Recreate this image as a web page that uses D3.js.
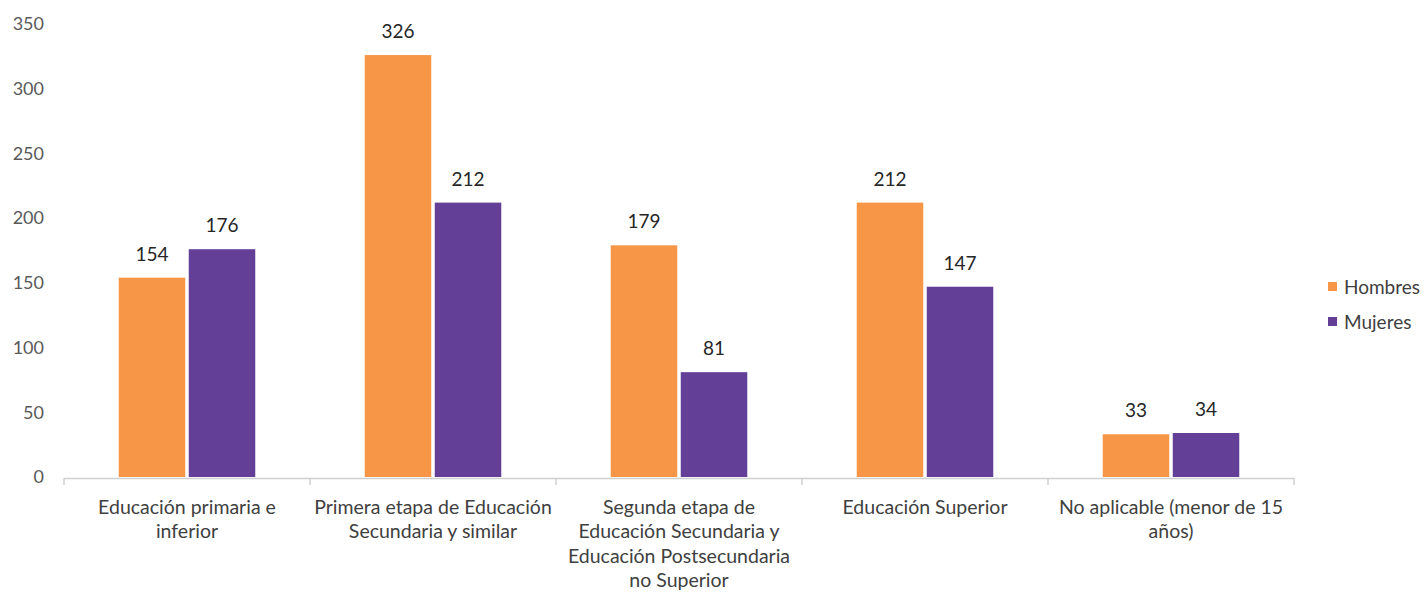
<!DOCTYPE html>
<html><head><meta charset="utf-8">
<script src="https://cdn.jsdelivr.net/npm/d3@7"></script>
<style>body{margin:0;background:#fff}svg{display:block}text{font-family:Lato,"Open Sans",sans-serif}</style>
</head><body><svg id="c" width="1424" height="592"></svg>
<script>
const categories = [
  ["Educación primaria e","inferior"],
  ["Primera etapa de Educación","Secundaria y similar"],
  ["Segunda etapa de","Educación Secundaria y","Educación Postsecundaria","no Superior"],
  ["Educación Superior"],
  ["No aplicable (menor de 15","años)"]
];
const seriesNames = ["Hombres","Mujeres"];
const hombres = [154, 326, 179, 212, 33];
const mujeres = [176, 212, 81, 147, 34];
const yTicks = [0,50,100,150,200,250,300,350];
const colors = ["#F79646","#643F98"];

const svg = d3.select("#c");
const catKeys = categories.map((c,i)=>i);
const x0 = d3.scaleBand().domain(catKeys).range([64,1294]).padding(0);
const bw = x0.bandwidth();
const gw = bw*0.555;
const x1 = d3.scaleBand().domain(seriesNames).range([(bw-gw)/2,(bw+gw)/2]).paddingInner(0.05);
const y = d3.scaleLinear().domain([0,350]).range([477,24]);

// y tick labels
svg.append("g").selectAll("text").data(yTicks).join("text")
  .attr("x",44).attr("y",d=>y(d)).attr("dy","0.35em").attr("text-anchor","end")
  .attr("font-size",18).attr("fill","#595959").text(d=>d);

const data = [hombres, mujeres];
const g = svg.append("g");
seriesNames.forEach((s,si)=>{
  g.selectAll(null).data(data[si]).join("rect")
    .attr("x",(d,i)=>x0(i)+x1(s)).attr("width",x1.bandwidth())
    .attr("y",d=>y(d)).attr("height",d=>y(0)-y(d)).attr("fill",colors[si]);
  g.selectAll(null).data(data[si]).join("text")
    .attr("x",(d,i)=>x0(i)+x1(s)+x1.bandwidth()/2).attr("y",d=>y(d)-17)
    .attr("text-anchor","middle").attr("font-size",19).attr("fill","#262626").text(d=>d);
});

// x axis
const ax = svg.append("g");
ax.append("line").attr("x1",64).attr("x2",1294).attr("y1",478.5).attr("y2",478.5).attr("stroke","#d0d0d0").attr("stroke-width",1.5);
const bounds = catKeys.map(i=>x0(i)).concat([x0(catKeys.length-1)+bw]);
ax.selectAll("line.t").data(bounds).join("line").attr("class","t")
  .attr("x1",d=>d).attr("x2",d=>d).attr("y1",478).attr("y2",485).attr("stroke","#d0d0d0").attr("stroke-width",1.5);
const lab = ax.selectAll("text").data(categories).join("text")
  .attr("text-anchor","middle").attr("font-size",19.5).attr("fill","#404040");
lab.each(function(lines,i){
  d3.select(this).selectAll("tspan").data(lines).join("tspan")
    .attr("x",x0(i)+bw/2).attr("y",(d,j)=>514+j*24.3).text(d=>d);
});

// legend
const lg = svg.append("g");
seriesNames.forEach((s,i)=>{
  lg.append("rect").attr("x",1328).attr("y",282+i*35).attr("width",9).attr("height",9).attr("fill",colors[i]);
  lg.append("text").attr("x",1344).attr("y",287+i*35).attr("dy","0.35em").attr("font-size",19).attr("fill","#404040").text(s);
});
</script></body></html>
